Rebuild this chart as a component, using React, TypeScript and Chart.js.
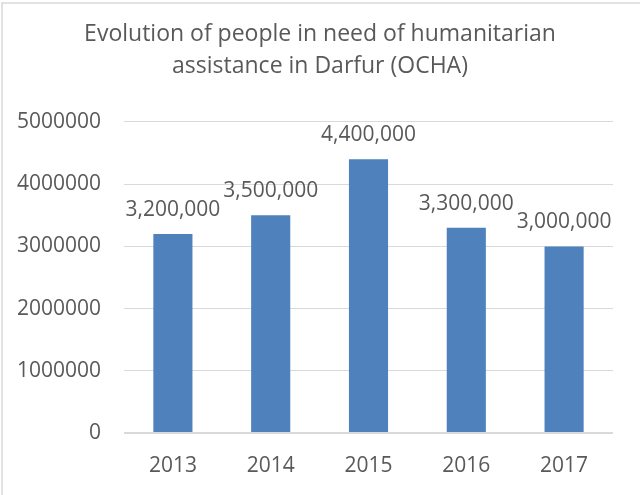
import React, { useEffect, useRef } from "react";
import { Chart, registerables } from "chart.js";

Chart.register(...registerables);

const titleLines = ["Evolution of people in need of humanitarian", "assistance in Darfur (OCHA)"];
const years = ["2013", "2014", "2015", "2016", "2017"];
const people = [3200000, 3500000, 4400000, 3300000, 3000000];
const yMin = 0;
const yMax = 5000000;
const yStep = 1000000;

const FONT = "'Open Sans', 'Noto Sans', sans-serif";
const TEXT = "#595959";
const GRID = "#d9d9d9";
const BAR = "#4f81bd";

const borderPlugin = {
  id: "chartBorder",
  beforeDraw(chart: any) {
    const ctx = chart.ctx;
    ctx.save();
    ctx.fillStyle = "#ffffff";
    ctx.fillRect(0, 0, chart.width, chart.height);
    ctx.strokeStyle = GRID;
    ctx.lineWidth = 1.5;
    ctx.strokeRect(2, 3, chart.width + 20, chart.height + 20);
    ctx.restore();
  },
};

const valueLabelPlugin = {
  id: "valueLabels",
  afterDatasetsDraw(chart: any) {
    const ctx = chart.ctx;
    ctx.save();
    ctx.font = `21px ${FONT}`;
    ctx.fillStyle = TEXT;
    ctx.textAlign = "center";
    ctx.textBaseline = "alphabetic";
    chart.data.datasets.forEach((ds: any, i: number) => {
      const meta = chart.getDatasetMeta(i);
      meta.data.forEach((el: any, j: number) => {
        const v = ds.data[j] as number;
        ctx.fillText(v.toLocaleString("en-US"), el.x, el.y - 18);
      });
    });
    ctx.restore();
  },
};

export default function App() {
  const ref = useRef<HTMLCanvasElement | null>(null);

  useEffect(() => {
    if (!ref.current) return;
    const chart = new Chart(ref.current, {
      type: "bar",
      data: {
        labels: years,
        datasets: [
          {
            label: "People in need",
            data: people,
            backgroundColor: BAR,
            borderWidth: 0,
            barPercentage: 0.4,
            categoryPercentage: 1,
          },
        ],
      },
      options: {
        responsive: false,
        animation: false,
        devicePixelRatio: 1,
        layout: { padding: { left: 0, right: 0, top: 0, bottom: 0 } },
        plugins: {
          legend: { display: false },
          tooltip: { enabled: false },
          title: {
            display: true,
            text: titleLines,
            color: TEXT,
            font: { family: FONT, size: 23, weight: "normal", lineHeight: 1.413 },
            padding: { top: 17.75, bottom: 39.25 },
          },
        },
        scales: {
          x: {
            grid: { display: false, drawTicks: false },
            border: { display: false },
            ticks: {
              color: TEXT,
              font: { family: FONT, size: 21 },
              padding: 20,
              maxRotation: 0,
            },
            afterFit(scale: any) {
              scale.height = 62;
            },
          },
          y: {
            min: yMin,
            max: yMax,
            grid: {
              color: GRID,
              lineWidth: (c: any) => (c.tick && c.tick.value === 0 ? 2 : 1),
              drawTicks: false,
            },
            border: { display: false },
            ticks: {
              stepSize: yStep,
              color: TEXT,
              font: { family: FONT, size: 21 },
              padding: 23,
              callback: (v: any) => String(v),
            },
            afterFit(scale: any) {
              scale.width = 124;
            },
          },
          spacer: {
            type: "linear",
            position: "right",
            display: true,
            grid: { display: false, drawTicks: false },
            border: { display: false },
            ticks: { display: false },
            afterFit(scale: any) {
              scale.width = 27;
            },
          },
        },
      },
      plugins: [borderPlugin, valueLabelPlugin],
    });
    return () => chart.destroy();
  }, []);

  return (
    <div style={{ position: "absolute", left: 0, top: 0, width: 640, height: 495, overflow: "hidden", background: "#fff" }}>
      <canvas ref={ref} width={640} height={495} style={{ display: "block" }} />
    </div>
  );
}
